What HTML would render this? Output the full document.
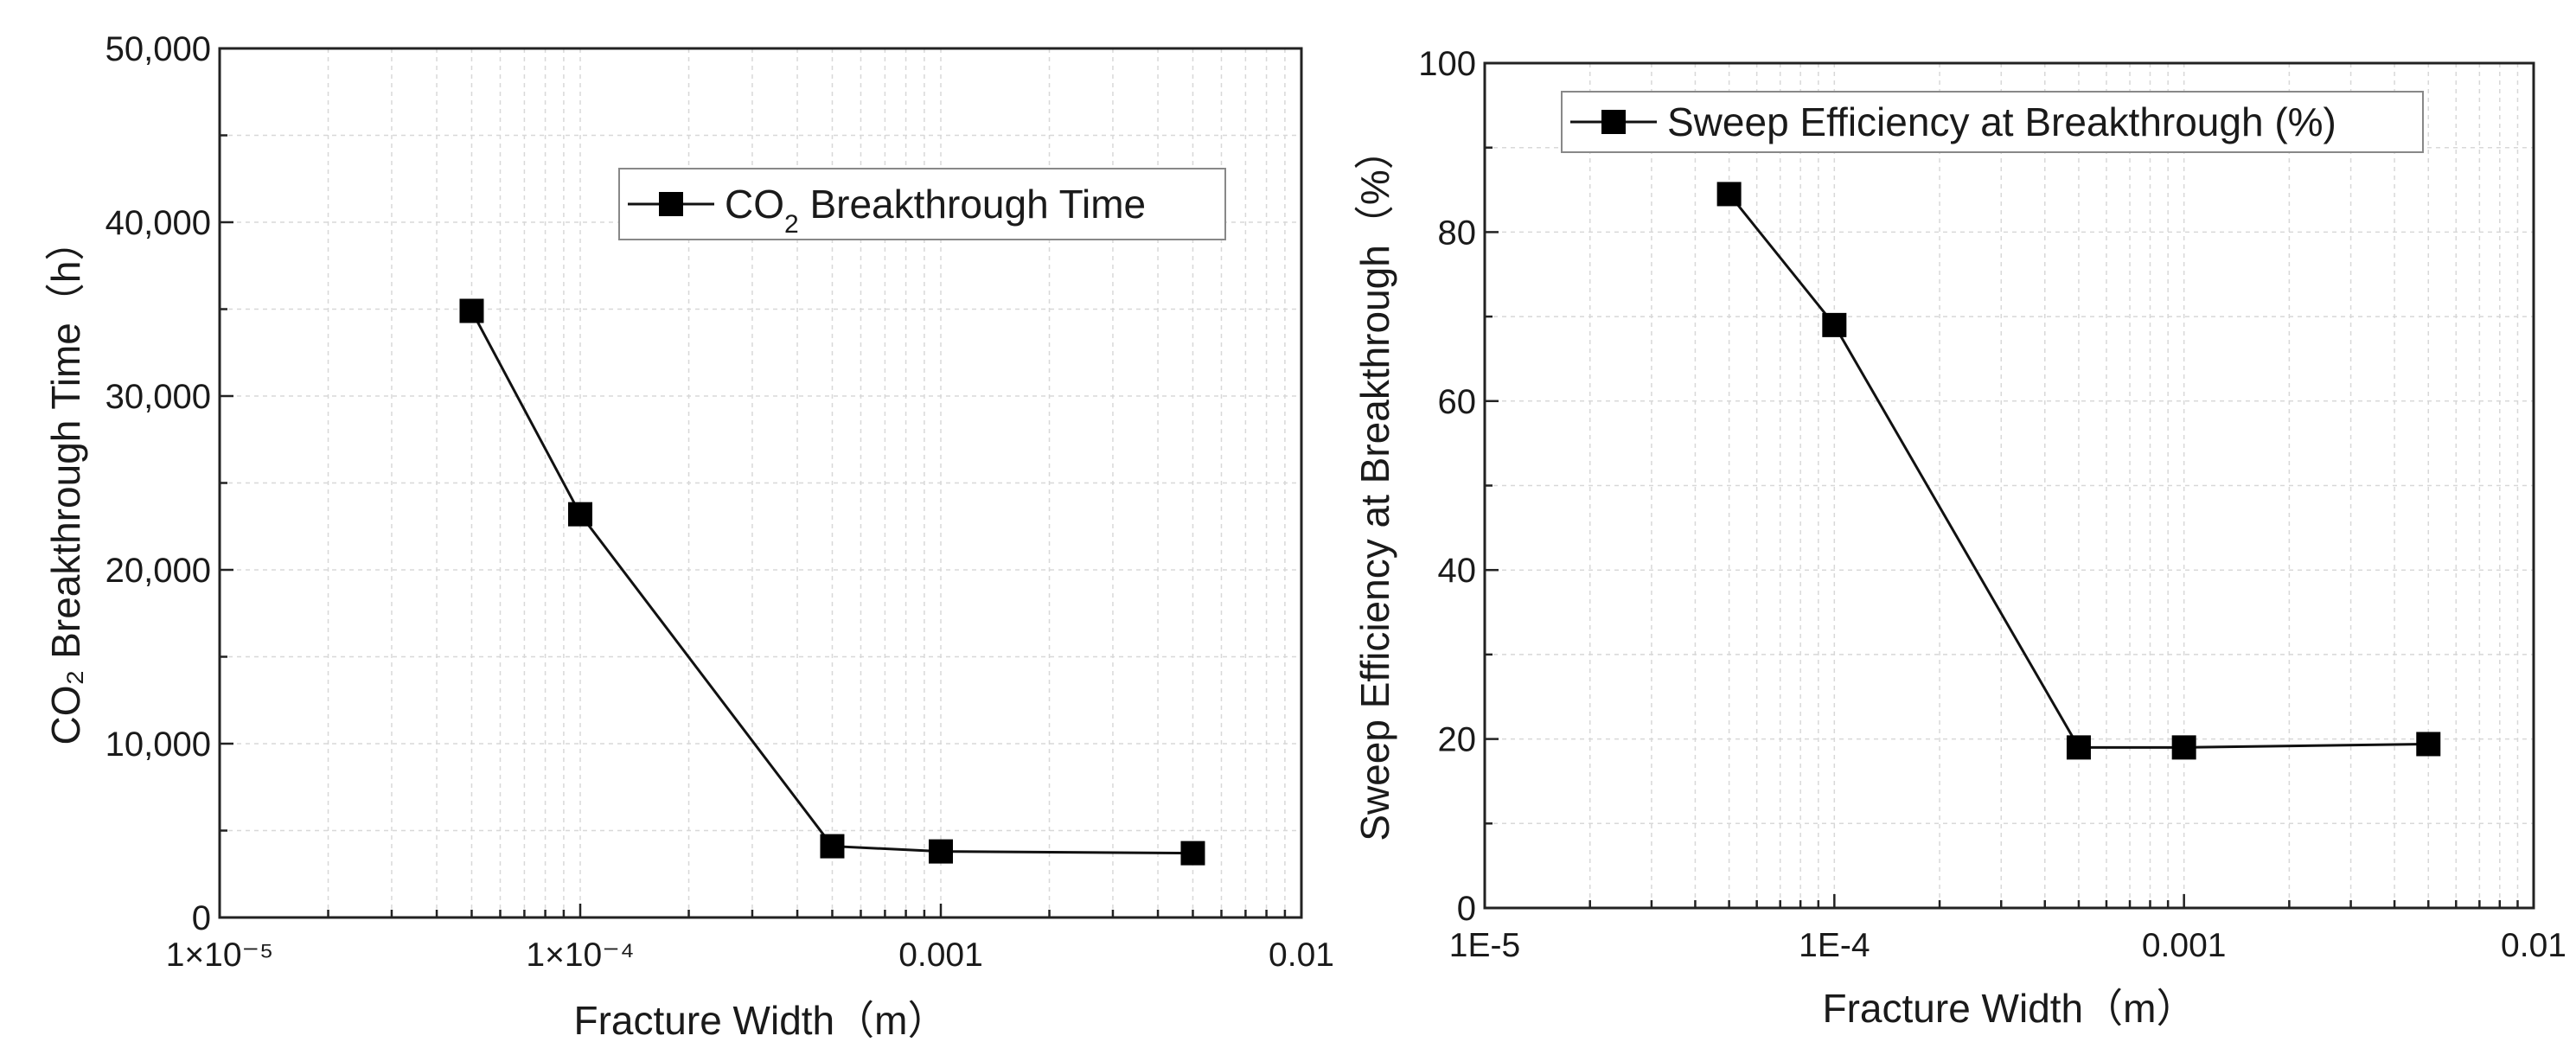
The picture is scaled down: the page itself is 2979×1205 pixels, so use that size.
<!DOCTYPE html>
<html><head><meta charset="utf-8"><style>
html,body{margin:0;padding:0;background:#fff;}
svg{display:block;}
text{font-family:"Liberation Sans","Noto Sans CJK SC",sans-serif;fill:#1a1a1a;}
</style></head><body>
<svg id="chart" width="2979" height="1205" viewBox="0 0 2979 1205" xmlns="http://www.w3.org/2000/svg"></svg>
<script>
const xValues = [5e-5, 1e-4, 5e-4, 1e-3, 5e-3];
const breakthroughTime = [34900, 23200, 4100, 3800, 3700];
const sweepEfficiency = [84.5, 69, 19, 19, 19.4];
const leftYTicks = [0, 10000, 20000, 30000, 40000, 50000];
const leftYTickLabels = ["0", "10,000", "20,000", "30,000", "40,000", "50,000"];
const rightYTicks = [0, 20, 40, 60, 80, 100];
const rightYTickLabels = ["0", "20", "40", "60", "80", "100"];
const xDecades = [-5, -4, -3, -2];
const leftXTickLabels = ["1×10⁻⁵", "1×10⁻⁴", "0.001", "0.01"];
const rightXTickLabels = ["1E-5", "1E-4", "0.001", "0.01"];

const svg = document.getElementById('chart');
const NS = 'http://www.w3.org/2000/svg';
function mk(tag, attrs, parent) {
  const e = document.createElementNS(NS, tag);
  for (const k in attrs) e.setAttribute(k, attrs[k]);
  (parent || svg).appendChild(e);
  return e;
}

function drawPanel(p) {
  const g = mk('g', {});
  
  
  const xs = v => p.x0 + (Math.log10(v) + 5) / 3 * (p.x1 - p.x0);
  const ys = v => p.y1 - (v - p.ymin) / (p.ymax - p.ymin) * (p.y1 - p.y0);
  for (let d = -5; d < -2; d++) {
    for (let m = 1; m <= 9; m++) {
      const v = m * Math.pow(10, d);
      const X = xs(v);
      if (X <= p.x0 + 1 || X >= p.x1 - 1) continue;
      const gl = mk('line', {x1: X, x2: X, y1: p.y0, y2: p.y1, stroke: '#d8d8d8', 'stroke-width': 1.5, 'stroke-dasharray': '5,5'}, g);
      
      
      const tl = m === 1 ? 16 : 9;
      const tk = mk('line', {x1: X, x2: X, y1: p.y1, y2: p.y1 - tl, stroke: '#222', 'stroke-width': 2.5}, g);
      
      
    }
  }
  const step = p.yTicks[1] - p.yTicks[0];
  for (let i = 0; i < p.yTicks.length * 2 - 1; i++) {
    const v = p.ymin + i * step / 2;
    const Y = ys(v);
    if (i > 0 && i < p.yTicks.length * 2 - 2) {
      const gl = mk('line', {x1: p.x0, x2: p.x1, y1: Y, y2: Y, stroke: '#d8d8d8', 'stroke-width': 1.5, 'stroke-dasharray': '5,5'}, g);
      
      
    }
    const tk = mk('line', {x1: p.x0, x2: p.x0 + (i % 2 ? 9 : 16), y1: Y, y2: Y, stroke: '#222', 'stroke-width': 2.5}, g);
    
    
  }
  const fr = mk('rect', {x: p.x0, y: p.y0, width: p.x1 - p.x0, height: p.y1 - p.y0, fill: 'none', stroke: '#222', 'stroke-width': 3}, g);
  
  
  p.yTicks.forEach((v, i) => {
    const t = mk('text', {x: p.x0 - 10, y: ys(v) + 14, 'text-anchor': 'end', 'font-size': 40}, g);
    
    
    t.textContent = p.yLabels[i];
  });
  xDecades.forEach((d, i) => {
    const t = mk('text', {x: xs(Math.pow(10, d)), y: p.y1 + 56, 'text-anchor': 'middle', 'font-size': 39}, g);
    
    
    t.textContent = p.xLabels[i];
  });
  const pts = xValues.map((v, i) => xs(v) + ',' + ys(p.values[i])).join(' ');
  const line = mk('polyline', {points: pts, fill: 'none', stroke: '#111', 'stroke-width': 3}, g);
  
  
  xValues.forEach((v, i) => {
    const r = mk('rect', {x: xs(v) - 14, y: ys(p.values[i]) - 14, width: 28, height: 28, fill: '#000'}, g);
    
    
  });
  const lg = mk('g', {}, g);
  
  
  mk('rect', {x: p.lx, y: p.ly, width: p.lw, height: p.lh, fill: '#fff', stroke: '#888', 'stroke-width': 2}, lg);
  const cy = p.ly + p.lh / 2;
  mk('line', {x1: p.lx + 10, x2: p.lx + 110, y1: cy, y2: cy, stroke: '#111', 'stroke-width': 3}, lg);
  mk('rect', {x: p.lx + 46, y: cy - 14, width: 28, height: 28, fill: '#000'}, lg);
  const lt = mk('text', {x: p.lx + 122, y: cy + 16, 'font-size': 46}, lg);
  
  
  lt.innerHTML = p.legend;
  const xt = mk('text', {x: (p.x0 + p.x1) / 2, y: p.xty, 'text-anchor': 'middle', 'font-size': 46}, g);
  
  
  xt.textContent = 'Fracture Width（m）';
  const yt = mk('text', {x: 0, y: 0, 'text-anchor': 'middle', 'font-size': 46, transform: 'translate(' + p.ytx + ',' + ((p.y0 + p.y1) / 2) + ') rotate(-90)'}, g);
  
  
  yt.textContent = p.ytitle;
}

drawPanel({name: 'breakthrough-time-chart', x0: 254, x1: 1505, y0: 56, y1: 1061, ymin: 0, ymax: 50000,
  yTicks: leftYTicks, yLabels: leftYTickLabels, xLabels: leftXTickLabels, values: breakthroughTime,
  lx: 716, ly: 195, lw: 701, lh: 82, legend: 'CO<tspan baseline-shift="sub" font-size="30">2</tspan> Breakthrough Time',
  xty: 1196, ytx: 92, ytitle: 'CO₂  Breakthrough Time（h）'});
drawPanel({name: 'sweep-efficiency-chart', x0: 1717, x1: 2930, y0: 73, y1: 1050, ymin: 0, ymax: 100,
  yTicks: rightYTicks, yLabels: rightYTickLabels, xLabels: rightXTickLabels, values: sweepEfficiency,
  lx: 1806, ly: 106, lw: 996, lh: 70, legend: 'Sweep Efficiency at Breakthrough (%)',
  xty: 1182, ytx: 1606, ytitle: 'Sweep Efficiency at Breakthrough（%）'});
</script>
</body></html>
